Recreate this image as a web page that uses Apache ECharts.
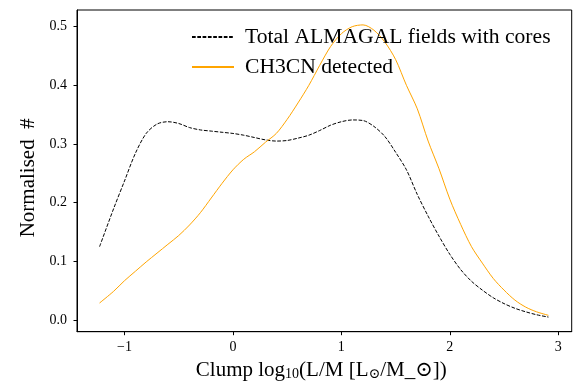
<!DOCTYPE html>
<html><head><meta charset="utf-8">
<script src="https://cdn.jsdelivr.net/npm/echarts@6/dist/echarts.min.js"></script>
<style>html,body{margin:0;padding:0;background:#fff}#c{width:578px;height:390px}</style>
</head><body><div id="c"></div>
<script>
const xValues = [-1.23,-1.1,-1.0,-0.9,-0.8,-0.7,-0.6,-0.5,-0.4,-0.3,-0.2,-0.1,0.0,0.1,0.2,0.3,0.4,0.5,0.6,0.7,0.8,0.9,1.0,1.1,1.2,1.3,1.4,1.5,1.6,1.7,1.8,1.9,2.0,2.1,2.2,2.3,2.4,2.5,2.6,2.7,2.8,2.91];
const totalFields = [0.125,0.19,0.237,0.284,0.318,0.334,0.338,0.335,0.328,0.324,0.322,0.320,0.318,0.315,0.311,0.307,0.305,0.306,0.310,0.315,0.323,0.332,0.338,0.341,0.340,0.330,0.313,0.286,0.256,0.214,0.177,0.143,0.112,0.086,0.066,0.051,0.038,0.028,0.020,0.014,0.009,0.005];
const ch3cnDetected = [0.029,0.049,0.067,0.083,0.099,0.114,0.129,0.144,0.162,0.183,0.208,0.233,0.256,0.274,0.287,0.303,0.318,0.342,0.370,0.400,0.434,0.466,0.488,0.500,0.503,0.494,0.474,0.444,0.400,0.360,0.305,0.258,0.206,0.163,0.125,0.097,0.071,0.051,0.034,0.022,0.014,0.008];
const xTicks = [-1,0,1,2,3];
const yTicks = [0.0,0.1,0.2,0.3,0.4,0.5];
const seriesNames = ['Total ALMAGAL fields with cores','CH3CN detected'];

const FONT = '"Liberation Serif", "DejaVu Serif", serif';
const chart = echarts.init(document.getElementById('c'), null, {renderer:'canvas'});
const pair = (xs, ys) => xs.map((x,i)=>[x, ys[i]]);
chart.setOption({
  animation:false,
  backgroundColor:'#fff',
  grid:{left:77, top:10, right:6.3, bottom:58.3, show:true, borderColor:'#000', borderWidth:1},
  legend:{
    orient:'vertical', left:186, top:21, itemWidth:42, itemHeight:12, itemGap:8,
    itemStyle:{opacity:0},
    textStyle:{fontFamily:FONT, fontSize:21.6, color:'#000', padding:[0,0,0,6]},
    data: seriesNames
  },
  xAxis:{
    type:'value', min:-1.438, max:3.124,
    axisLine:{show:true, onZero:false, lineStyle:{color:'#000', width:1}},
    axisTick:{show:true, inside:false, length:3.5, customValues:xTicks, lineStyle:{color:'#000'}},
    axisLabel:{customValues:xTicks, margin:9, fontFamily:FONT, fontSize:14, color:'#000',
      formatter:v=>String(v).replace('-','\u2212')},
    splitLine:{show:false},
    name:'{n|Clump log}{s|10}{n|(L/M [L}{s|\u2299}{n|/M_\u2299])}',
    nameLocation:'middle', nameGap:26,
    nameTextStyle:{padding:[0,6,0,0], rich:{n:{fontFamily:FONT, fontSize:21, color:'#000'}, s:{fontFamily:FONT, fontSize:14, color:'#000', verticalAlign:'bottom', padding:[9,0,0,0]}}}
  },
  yAxis:{
    type:'value', min:-0.0199, max:0.5284,
    axisLine:{show:true, onZero:false, lineStyle:{color:'#000', width:1}},
    axisTick:{show:true, inside:false, length:3.5, customValues:yTicks, lineStyle:{color:'#000'}},
    axisLabel:{customValues:yTicks, margin:10, fontFamily:FONT, fontSize:14, color:'#000',
      formatter:v=>v.toFixed(1)},
    splitLine:{show:false},
    name:'Normalised  #', nameLocation:'middle', nameGap:33, nameRotate:90,
    nameTextStyle:{fontFamily:FONT, fontSize:21, color:'#000', padding:[0,14,0,0]}
  },
  series:[
    {name:seriesNames[0], type:'line', data:pair(xValues,totalFields), smooth:0.3, symbol:'none',
     lineStyle:{color:'#000', width:1, type:[3.7,1.6]}, itemStyle:{color:'#000'}},
    {name:seriesNames[1], type:'line', data:pair(xValues,ch3cnDetected), smooth:0.3, symbol:'none',
     lineStyle:{color:'#FFA500', width:1}, itemStyle:{color:'#FFA500'}}
  ]
});
</script></body></html>
